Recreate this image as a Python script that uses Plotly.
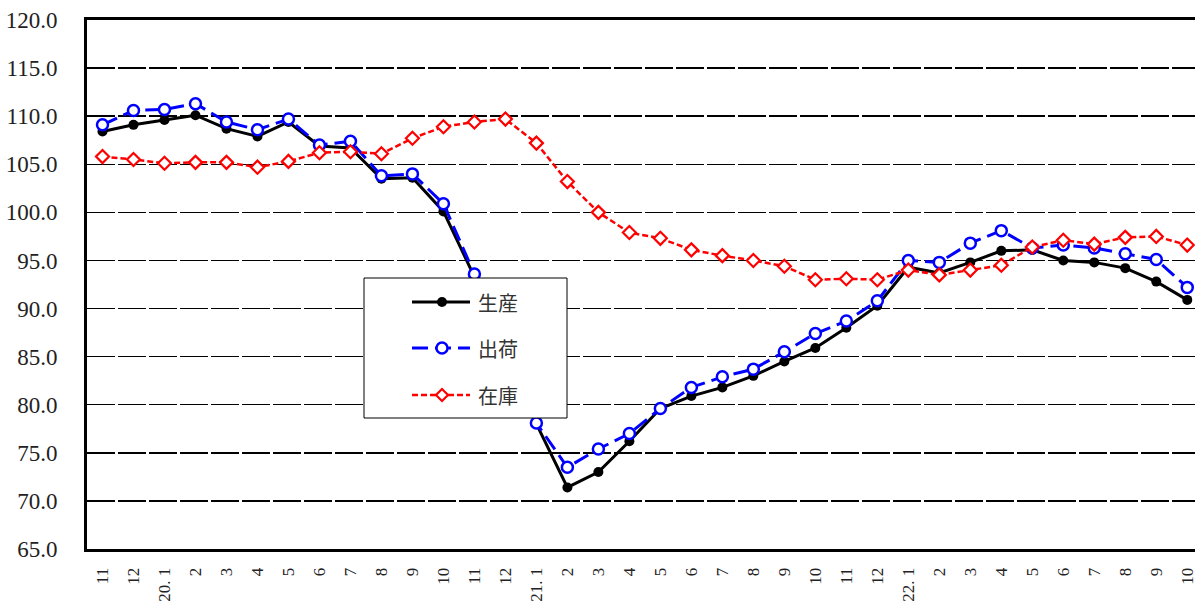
import plotly.graph_objects as go

labels = ["11", "12", "20. 1", "2", "3", "4", "5", "6", "7", "8", "9", "10",
          "11", "12", "21. 1", "2", "3", "4", "5", "6", "7", "8", "9", "10",
          "11", "12", "22. 1", "2", "3", "4", "5", "6", "7", "8", "9", "10"]

production = [108.4, 109.1, 109.6, 110.1, 108.7, 107.9, 109.4, 106.9, 106.7, 103.5, 103.6, 100.1,
              93.3, 86.0, 78.0, 71.4, 73.0, 76.2, 79.6, 80.9, 81.8, 83.0, 84.5, 85.9,
              88.0, 90.3, 94.3, 93.7, 94.8, 96.0, 96.1, 95.0, 94.8, 94.2, 92.8, 90.9]

shipments = [109.1, 110.6, 110.7, 111.3, 109.4, 108.6, 109.7, 107.0, 107.4, 103.8, 104.0, 100.9,
             93.6, 86.3, 78.1, 73.5, 75.4, 77.0, 79.6, 81.8, 82.9, 83.7, 85.5, 87.4,
             88.7, 90.8, 95.0, 94.8, 96.8, 98.1, 96.3, 96.6, 96.3, 95.7, 95.1, 92.2]

inventory = [105.8, 105.5, 105.1, 105.2, 105.2, 104.7, 105.3, 106.2, 106.3, 106.1, 107.7, 108.9,
             109.4, 109.7, 107.2, 103.2, 100.0, 97.9, 97.3, 96.1, 95.5, 95.0, 94.4, 93.0,
             93.1, 93.0, 94.0, 93.5, 94.0, 94.5, 96.4, 97.1, 96.7, 97.4, 97.5, 96.6]

names = ["生産", "出荷", "在庫"]

x = list(range(len(labels)))

FIG_W, FIG_H = 1195, 610
ML, MR, MT, MB = 87, 0, 20, 61
PW = FIG_W - ML - MR
PH = FIG_H - MT - MB


def px(xp):
    return (xp - ML) / PW


def py(yp):
    return 1 - (yp - MT) / PH


styles = [
    dict(line=dict(color="black", width=3),
         marker=dict(symbol="circle", size=10, color="black")),
    dict(line=dict(color="#0000ff", width=3, dash="16px,7px"),
         marker=dict(symbol="circle", size=11, color="white", line=dict(color="#0000ff", width=2.5))),
    dict(line=dict(color="#ff0000", width=2.5, dash="6px,3px"),
         marker=dict(symbol="diamond", size=10, color="white", line=dict(color="#ff0000", width=2.2))),
]

fig = go.Figure()
for name, vals, st in zip(names, [production, shipments, inventory], styles):
    fig.add_trace(go.Scatter(x=x, y=vals, name=name, mode="lines+markers",
                             line=st["line"], marker=st["marker"], showlegend=False))

# manual legend (box, samples, text)
shapes = [dict(type="rect", xref="paper", yref="paper",
               x0=px(364), x1=px(567), y0=py(418), y1=py(278),
               line=dict(color="black", width=1), fillcolor="white", layer="above")]
annotations = []
item_y = [302, 348, 395]
for i, (name, st) in enumerate(zip(names, styles)):
    yy = py(item_y[i])
    shapes.append(dict(type="line", xref="paper", yref="paper",
                       x0=px(412), x1=px(470), y0=yy, y1=yy,
                       line=dict(color=st["line"]["color"], width=st["line"]["width"],
                                 dash=st["line"].get("dash", "solid")), layer="above"))
    mk = st["marker"]
    if mk["symbol"] == "circle":
        r = mk["size"] / 2
        shapes.append(dict(type="circle", xref="paper", yref="paper",
                           xsizemode="pixel", ysizemode="pixel",
                           xanchor=px(442), yanchor=yy,
                           x0=-r, x1=r, y0=-r, y1=r,
                           fillcolor=mk["color"],
                           line=dict(color=mk.get("line", {}).get("color", mk["color"]),
                                     width=mk.get("line", {}).get("width", 0)),
                           layer="above"))
    else:
        r = mk["size"] / 2 + 1
        shapes.append(dict(type="path", xref="paper", yref="paper",
                           xsizemode="pixel", ysizemode="pixel",
                           xanchor=px(442), yanchor=yy,
                           path=f"M0,{-r} L{r},0 L0,{r} L{-r},0 Z",
                           fillcolor=mk["color"],
                           line=dict(color=mk["line"]["color"], width=mk["line"]["width"]),
                           layer="above"))
    annotations.append(dict(xref="paper", yref="paper", x=px(476), y=yy,
                            xanchor="left", yanchor="middle", showarrow=False,
                            text=name,
                            font=dict(family="Noto Sans CJK JP", size=20, color="#333333")))

fig.update_layout(
    width=FIG_W, height=FIG_H,
    margin=dict(l=ML, r=MR, t=MT, b=MB, autoexpand=False),
    paper_bgcolor="white", plot_bgcolor="white",
    showlegend=False, hovermode=False,
    shapes=shapes, annotations=annotations,
    xaxis=dict(
        range=[-0.5, 35.25],
        tickmode="array", tickvals=x, ticktext=labels,
        tickangle=-90,
        tickfont=dict(family="Liberation Serif", size=17, color="#222222"),
        showgrid=False, zeroline=False,
        showline=True, linecolor="black", linewidth=3, mirror=True,
        ticks="", ticklabelstandoff=9, automargin=False,
        ticklabeloverflow="allow",
    ),
    yaxis=dict(
        range=[65, 120], dtick=5, tickformat=".1f",
        tickfont=dict(family="Liberation Serif", size=23, color="#222222"),
        showgrid=True, gridcolor="black", gridwidth=1.5, griddash="28px,3px",
        zeroline=False,
        showline=True, linecolor="black", linewidth=3,
        ticks="", ticklabelstandoff=22, automargin=False,
        ticklabeloverflow="allow",
    ),
)

fig.write_html("out.html",
               config={"displayModeBar": False, "staticPlot": True},
               post_script="document.body.style.margin='0';document.body.style.overflow='hidden';")
